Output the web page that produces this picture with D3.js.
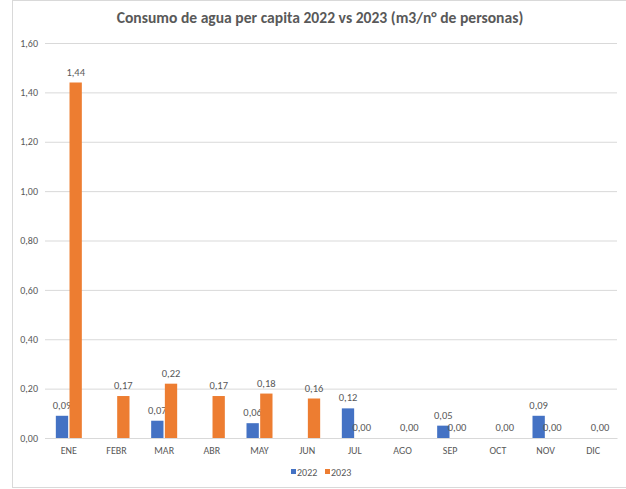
<!DOCTYPE html>
<html lang="es">
<head>
<meta charset="UTF-8">
<title>Consumo de agua per capita</title>
<script src="https://cdn.jsdelivr.net/npm/d3@7"></script>
<style>
    html, body { margin: 0; padding: 0; background: #fff; }
    text { font-family: Calibri, "Liberation Sans", "Open Sans", sans-serif; }
</style>
</head>
<body>
<svg id="svg" width="626" height="489"></svg>
<script>
    // datos
    var meses = ["ENE", "FEBR", "MAR", "ABR", "MAY", "JUN", "JUL", "AGO", "SEP", "OCT", "NOV", "DIC"];
    var valores2022 = [0.09, null, 0.07, null, 0.06, null, 0.12, null, 0.05, null, 0.09, null];
    var valores2023 = [1.44, 0.17, 0.22, 0.17, 0.18, 0.16, 0.00, 0.00, 0.00, 0.00, 0.00, 0.00];
    var ticksY = [0, 0.2, 0.4, 0.6, 0.8, 1.0, 1.2, 1.4, 1.6];
    var series = [
        {name: "2022", values: valores2022, color: "#4472C4"},
        {name: "2023", values: valores2023, color: "#ED7D31"}
    ];

    var svg = d3.select("#svg");
    var fmt = function (v) { return d3.format(".2f")(v).replace(".", ","); };

    // marco
    svg.append("rect")
        .attr("x", 12.5).attr("y", 0.5)
        .attr("width", 640).attr("height", 487)
        .attr("fill", "none").attr("stroke", "#d9d9d9");

    var x = d3.scaleBand().domain(meses).range([45, 617]);
    var y = d3.scaleLinear().domain([0, 1.6]).range([438, 43]);
    var inner = d3.scaleBand().domain(series.map(function (s) { return s.name; }))
        .range([x.bandwidth() / 2 - 13, x.bandwidth() / 2 + 13]).paddingInner(0.1);

    // titulo
    svg.append("text")
        .attr("x", 320).attr("y", 23)
        .attr("text-anchor", "middle")
        .style("font-size", "15.6px")
        .style("font-weight", "bold")
        .style("fill", "#595959")
        .text("Consumo de agua per capita 2022 vs 2023 (m3/n° de personas)");

    // eje y + rejilla
    var yAxis = svg.append("g")
        .attr("transform", "translate(45,0)")
        .call(d3.axisLeft(y).tickValues(ticksY).tickSize(-572).tickPadding(7).tickFormat(fmt));
    yAxis.select(".domain").remove();
    yAxis.selectAll("line").attr("stroke", "#d9d9d9");
    yAxis.selectAll("text").style("fill", "#595959").style("font-size", "10px");

    // eje x
    var xAxis = svg.append("g")
        .attr("transform", "translate(0,438)")
        .call(d3.axisBottom(x).tickSize(0).tickPadding(9));
    xAxis.select(".domain").attr("stroke", "#d9d9d9");
    xAxis.selectAll("text").style("fill", "#595959").style("font-size", "10px");

    // barras y etiquetas
    series.forEach(function (s) {
        var datos = meses.map(function (m, i) { return {mes: m, v: s.values[i]}; })
            .filter(function (d) { return d.v !== null; });
        var g = svg.append("g");
        g.selectAll("rect")
            .data(datos)
            .enter()
            .append("rect")
            .attr("x", function (d) { return x(d.mes) + inner(s.name); })
            .attr("y", function (d) { return y(d.v); })
            .attr("width", inner.bandwidth())
            .attr("height", function (d) { return y(0) - y(d.v); })
            .attr("fill", s.color);
        g.selectAll("text")
            .data(datos)
            .enter()
            .append("text")
            .attr("x", function (d) { return x(d.mes) + inner(s.name) + inner.bandwidth() / 2; })
            .attr("y", function (d) { return y(d.v) - 7; })
            .attr("text-anchor", "middle")
            .style("font-size", "10.5px")
            .style("fill", "#595959")
            .text(function (d) { return fmt(d.v); });
    });

    // leyenda
    var leyenda = svg.append("g").attr("transform", "translate(291,472)");
    series.forEach(function (s, i) {
        var item = leyenda.append("g").attr("transform", "translate(" + (i * 34) + ",0)");
        item.append("rect").attr("x", 0).attr("y", -3).attr("width", 5).attr("height", 5).attr("fill", s.color);
        item.append("text").attr("x", 6).attr("y", 3.5)
            .style("font-size", "10px").style("fill", "#595959")
            .text(s.name);
    });
</script>
</body>
</html>
